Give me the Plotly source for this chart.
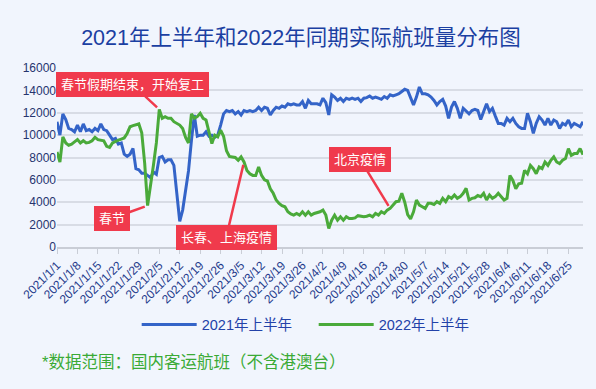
import pandas as pd
import plotly.graph_objects as go

# ---------------- data ----------------
dates = pd.date_range("2021-01-01", "2021-06-30", freq="D")

flights_2021 = [
    11200, 10000, 11900, 11400, 10600, 10500, 10300, 10900, 10300, 11000,
    10400, 10500, 10300, 10600, 10400, 11000, 10500, 10400, 10000, 9600,
    9700, 9200, 9300, 8300, 8100, 8300, 8800, 7000, 6900, 6600,
    6600, 6400, 6200, 6700, 6500, 8000, 8100, 7600, 7800, 7800,
    7300, 4800, 2300, 3300, 5000, 6800, 9500, 11800, 9900, 10000,
    10000, 10300, 9900, 10000, 9800, 10000, 10900, 11900, 12200, 12100,
    12200, 11900, 12100, 11800, 12200, 12100, 12200, 12100, 12200, 12500,
    12200, 12500, 12400, 11800, 12200, 12500, 12400, 12600, 12500, 12800,
    12700, 12800, 12700, 12700, 13000, 12400, 13100, 12800, 12800, 12800,
    12700, 13300, 12900, 11800, 13600, 13400, 13100, 13300, 13000, 13300,
    13200, 13300, 13200, 13300, 13000, 13300, 13350, 13500, 13300, 13400,
    13300, 13200, 13450, 13300, 13600, 13500, 13600, 13700, 13900, 14100,
    14000, 13300, 12700, 13400, 14300, 13700, 13700, 13600, 13400, 13100,
    12700, 13000, 13200, 12600, 11500, 12500, 13000, 12400, 11500, 12400,
    12100, 11900, 12200, 12300, 12200, 11400, 12100, 12800, 12100, 12400,
    11700, 11050, 11050, 10900, 11500, 11200, 11500, 11050, 10750, 10600,
    10600, 11950, 11200, 10150, 11050, 11650, 11350, 10900, 11500, 10900,
    11350, 11200, 10600, 11050, 10900, 11350, 10750, 11050, 10900, 10750,
    11200,
]

flights_2022 = [
    8500, 7600, 9850, 9300, 9100, 9200, 9400, 9600, 9300, 9500,
    9300, 9350, 9500, 9800, 9600, 9550, 9500, 9000, 8900, 9300,
    9450, 9550, 9650, 9750, 10150, 10750, 10850, 10950, 11000, 10200,
    7500, 3700, 5300, 7300, 9300, 12300, 11500, 11650, 11500, 11500,
    11200, 11050, 10900, 10600, 9800, 9300, 11900, 11500, 11650, 11950,
    11500, 11350, 10150, 9250, 10000, 9850, 10450, 9900, 8600, 8100,
    8050, 8000, 7750, 8050, 7600, 6850, 6550, 6400, 6400, 7150,
    6400, 6000, 5900, 5200, 4800, 4200, 3900, 3700, 3600, 3150,
    2950, 2850, 3000, 2850, 3150, 2850, 3150, 2850, 3000, 3050,
    3150, 3300, 2850, 1650, 2400, 2850, 2400, 2700, 2400, 2700,
    2550, 2550, 2600, 2800, 2750, 2700, 2750, 2850, 2700, 3000,
    2850, 3150, 3000, 3300, 3450, 3750, 4050, 4100, 4800, 4000,
    2900, 2500, 3150, 4200, 3750, 3600, 3450, 3900, 3900, 3800,
    4050, 3900, 4350, 4050, 4500, 4350, 4650, 4350, 4500, 4800,
    5250, 4200, 4350, 4400, 4600, 4500, 4800, 4200, 4650, 4350,
    4500, 4800, 4500, 4200, 4350, 6400, 5950, 5200, 5650, 5700,
    6850, 6550, 7300, 7000, 6550, 7150, 7000, 7600, 7300, 7750,
    8050, 7600, 7450, 7750, 7900, 8800, 8200, 8350, 8350, 8800,
    8250,
]

tick_labels = [
    "2021/1/1", "2021/1/8", "2021/1/15", "2021/1/22", "2021/1/29",
    "2021/2/5", "2021/2/12", "2021/2/19", "2021/2/26", "2021/3/5",
    "2021/3/12", "2021/3/19", "2021/3/26", "2021/4/2", "2021/4/9",
    "2021/4/16", "2021/4/23", "2021/4/30", "2021/5/7", "2021/5/14",
    "2021/5/21", "2021/5/28", "2021/6/4", "2021/6/11", "2021/6/18",
    "2021/6/25",
]
tick_vals = list(dates[::7])

series_names = ["2021年上半年", "2022年上半年"]
y_ticks = [0, 2000, 4000, 6000, 8000, 10000, 12000, 14000, 16000]

title_text = "2021年上半年和2022年同期实际航班量分布图"
footnote = "*数据范围：国内客运航班（不含港澳台）"

# (label, day index, series, ax, ay)
callouts = [
    ("春节假期结束，开始复工", 35, flights_2022, -27, -25),
    ("春节", 31, flights_2022, -36, 13),
    ("长春、上海疫情", 64, flights_2022, -18, 76),
    ("北京疫情", 114, flights_2022, -30, -49),
]

# ---------------- figure ----------------
FONT = "Liberation Sans, Noto Sans CJK SC, sans-serif"
BLUE = "#3464c8"
GREEN = "#4aaa3a"
RED = "#f03a4c"
BG = "#f1f5fd"

fig = go.Figure()
fig.add_trace(go.Scatter(x=dates, y=flights_2021, mode="lines", name=series_names[0],
                         line=dict(color=BLUE, width=3)))
fig.add_trace(go.Scatter(x=dates, y=flights_2022, mode="lines", name=series_names[1],
                         line=dict(color=GREEN, width=3)))

annotations = []
for text, idx, ser, ax, ay in callouts:
    annotations.append(dict(
        x=dates[idx], y=ser[idx], xref="x", yref="y",
        text=text, showarrow=True, arrowhead=0, arrowwidth=2.5,
        arrowcolor=RED, ax=ax, ay=ay, standoff=3,
        bgcolor=RED, bordercolor=RED, borderpad=4, borderwidth=1,
        font=dict(family=FONT, size=13, color="white"),
    ))

annotations.append(dict(
    x=-0.032, y=-0.64, xref="paper", yref="paper", xanchor="left", yanchor="middle",
    text=footnote, showarrow=False,
    font=dict(family=FONT, size=16.5, color="#3aaa35"),
))

fig.update_layout(
    width=596, height=389,
    margin=dict(l=57, r=13, t=68, b=142),
    paper_bgcolor=BG,
    plot_bgcolor=BG,
    title=dict(text=title_text, x=0.505, xref="container", xanchor="center",
               y=1 - 37 / 389, yref="container", yanchor="middle",
               font=dict(family=FONT, size=21.5, color="#1b3fa2")),
    showlegend=True,
    legend=dict(orientation="h", x=0.488, xanchor="center", y=-0.433, yanchor="middle",
                font=dict(family=FONT, size=14.5, color="#2342a8"),
                bgcolor="rgba(0,0,0,0)", itemwidth=55, entrywidth=107,
                tracegroupgap=0),
    annotations=annotations,
    font=dict(family=FONT),
)

fig.update_xaxes(
    range=[dates[0], dates[-1]],
    tickmode="array", tickvals=tick_vals, ticktext=tick_labels,
    tickangle=-45, tickfont=dict(family=FONT, size=12, color="#1f3b8c"),
    showgrid=False, showline=True, linecolor="#c9cdd6", linewidth=1.5,
    ticks="outside", ticklen=5, tickcolor="#c9cdd6", automargin=False,
    zeroline=False,
)
fig.update_yaxes(
    range=[0, 16000], tickmode="array", tickvals=y_ticks, tickformat="d",
    tickfont=dict(family=FONT, size=12, color="#26346e"),
    showgrid=True, gridcolor="#d8dce5", gridwidth=1.5,
    zeroline=False, showline=False, ticks="", automargin=False,
)

fig.write_html(
    "out.html",
    config={"displayModeBar": False},
    post_script="document.body.style.margin='0';document.body.style.background='%s';" % BG,
)
